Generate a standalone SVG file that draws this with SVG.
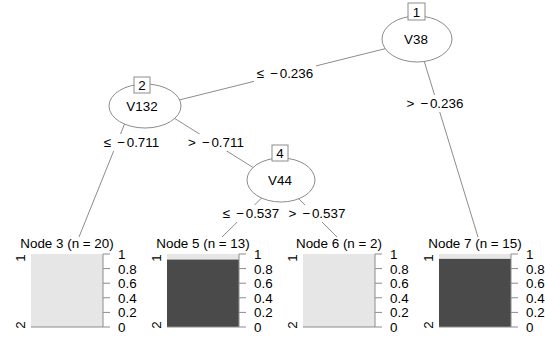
<svg xmlns="http://www.w3.org/2000/svg" width="545" height="337" viewBox="0 0 545 337">
<style>
text{font-family:"Liberation Sans",Arial,sans-serif;font-size:13.4px;fill:#000}
.c{text-anchor:middle}
.t{font-size:14px}
.e{stroke:#8c8c8c;stroke-width:1;fill:none}
.n{fill:#fff;stroke:#8c8c8c;stroke-width:1}
.lb{fill:#fff;stroke:none}
.ax{stroke:#8c8c8c;stroke-width:1;fill:none}
.lt{fill:#e6e6e6}
.dk{fill:#4a4a4a}
</style>
<rect width="545" height="337" fill="#fff"/>
<g id="connectors">
<line class="e" x1="416" y1="41" x2="143" y2="109"/>
<line class="e" x1="418" y1="41" x2="478" y2="237"/>
<line class="e" x1="131" y1="108" x2="79" y2="237"/>
<line class="e" x1="158" y1="108" x2="281" y2="185"/>
<line class="e" x1="280" y1="180" x2="222" y2="237"/>
<line class="e" x1="280" y1="180" x2="337" y2="237"/>
<rect class="lb" x="254" y="65" width="62" height="17"/>
<text class="c" x="285" y="78">≤ <tspan dx="2.5">−</tspan><tspan dx="1.5">0.236</tspan></text>
<rect class="lb" x="402" y="95" width="66" height="17"/>
<text class="c" x="435" y="108">&gt; <tspan dx="2.5">−</tspan><tspan dx="1.5">0.236</tspan></text>
<rect class="lb" x="101" y="134" width="62" height="17"/>
<text class="c" x="131.5" y="147">≤ <tspan dx="2.5">−</tspan><tspan dx="1.5">0.711</tspan></text>
<rect class="lb" x="185" y="134" width="62" height="17"/>
<text class="c" x="216" y="147">&gt; <tspan dx="2.5">−</tspan><tspan dx="1.5">0.711</tspan></text>
<rect class="lb" x="220" y="205" width="62" height="17"/>
<text class="c" x="251" y="218">≤ <tspan dx="2.5">−</tspan><tspan dx="1.5">0.537</tspan></text>
<rect class="lb" x="286" y="205" width="62" height="17"/>
<text class="c" x="317" y="218">&gt; <tspan dx="2.5">−</tspan><tspan dx="1.5">0.537</tspan></text>
</g>
<g id="node1">
<ellipse class="n" cx="417" cy="39" rx="35" ry="23"/>
<text class="c" x="416" y="44">V38</text>
<rect class="n" x="408" y="3" width="17" height="17"/>
<text class="c" x="416.5" y="16.5">1</text>
</g>
<g id="node2">
<ellipse class="n" cx="145" cy="106" rx="36" ry="22"/>
<text class="c" x="142" y="111">V132</text>
<rect class="n" x="134" y="77" width="16" height="16"/>
<text class="c" x="142" y="90">2</text>
</g>
<g id="node4">
<ellipse class="n" cx="281" cy="180" rx="34" ry="22"/>
<text class="c" x="280" y="185">V44</text>
<rect class="n" x="272" y="145" width="16" height="16"/>
<text class="c" x="280" y="158">4</text>
</g>
<g id="node3">
<text class="c" x="67" y="248">Node 3 (n = 20)</text>
<rect class="lt" x="31" y="254" width="72" height="73"/>
<path class="ax" d="M103,254V327M103,254h7M103,268.6h7M103,283.2h7M103,297.8h7M103,312.4h7M103,327h7"/>
<line x1="31" y1="327" x2="103" y2="327" stroke="#8c8c8c"/>
<g class="t"><text x="118" y="259">1</text><text x="118" y="273.6">0.8</text><text x="118" y="288.2">0.6</text><text x="118" y="302.8">0.4</text><text x="118" y="317.4">0.2</text><text x="118" y="332">0</text></g>
<text class="c" transform="translate(25,258) rotate(-90)">1</text>
<text class="c" transform="translate(25,325) rotate(-90)">2</text>
</g>
<g id="node5">
<text class="c" x="203" y="248">Node 5 (n = 13)</text>
<rect class="lt" x="167" y="254" width="72" height="73"/>
<rect class="dk" x="167" y="259.6" width="72" height="67.4"/>
<path class="ax" d="M239,254V327M239,254h7M239,268.6h7M239,283.2h7M239,297.8h7M239,312.4h7M239,327h7"/>
<line x1="167" y1="327" x2="239" y2="327" stroke="#8c8c8c"/>
<g class="t"><text x="254" y="259">1</text><text x="254" y="273.6">0.8</text><text x="254" y="288.2">0.6</text><text x="254" y="302.8">0.4</text><text x="254" y="317.4">0.2</text><text x="254" y="332">0</text></g>
<text class="c" transform="translate(161,258) rotate(-90)">1</text>
<text class="c" transform="translate(161,325) rotate(-90)">2</text>
</g>
<g id="node6">
<text class="c" x="339" y="248">Node 6 (n = 2)</text>
<rect class="lt" x="303" y="254" width="72" height="73"/>
<path class="ax" d="M375,254V327M375,254h7M375,268.6h7M375,283.2h7M375,297.8h7M375,312.4h7M375,327h7"/>
<line x1="303" y1="327" x2="375" y2="327" stroke="#8c8c8c"/>
<g class="t"><text x="390" y="259">1</text><text x="390" y="273.6">0.8</text><text x="390" y="288.2">0.6</text><text x="390" y="302.8">0.4</text><text x="390" y="317.4">0.2</text><text x="390" y="332">0</text></g>
<text class="c" transform="translate(297,258) rotate(-90)">1</text>
<text class="c" transform="translate(297,325) rotate(-90)">2</text>
</g>
<g id="node7">
<text class="c" x="475" y="248">Node 7 (n = 15)</text>
<rect class="lt" x="439" y="254" width="72" height="73"/>
<rect class="dk" x="439" y="258.9" width="72" height="68.1"/>
<path class="ax" d="M511,254V327M511,254h7M511,268.6h7M511,283.2h7M511,297.8h7M511,312.4h7M511,327h7"/>
<line x1="439" y1="327" x2="511" y2="327" stroke="#8c8c8c"/>
<g class="t"><text x="526" y="259">1</text><text x="526" y="273.6">0.8</text><text x="526" y="288.2">0.6</text><text x="526" y="302.8">0.4</text><text x="526" y="317.4">0.2</text><text x="526" y="332">0</text></g>
<text class="c" transform="translate(433,258) rotate(-90)">1</text>
<text class="c" transform="translate(433,325) rotate(-90)">2</text>
</g>
</svg>
